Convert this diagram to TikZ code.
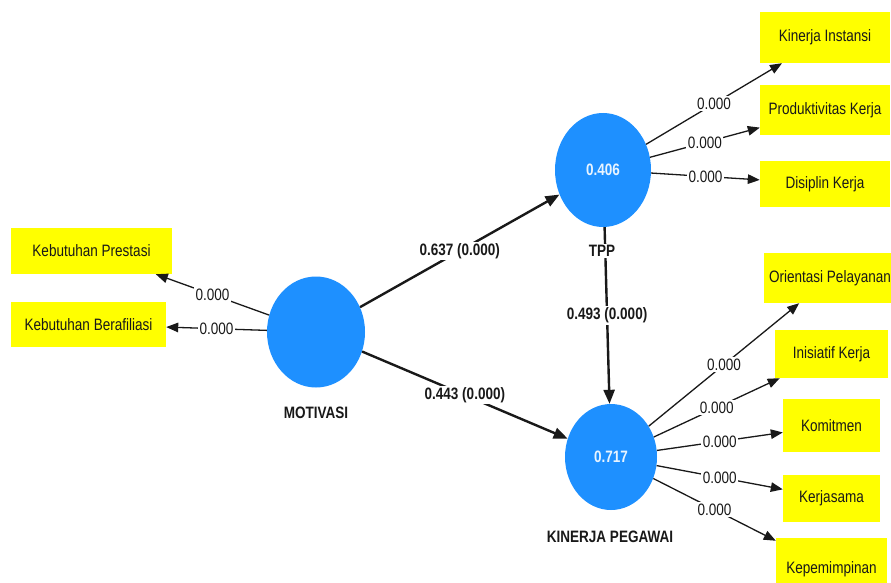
\documentclass[tikz,border=0pt]{standalone}
\usepackage{fontspec}
\setmainfont{Liberation Sans}[FakeStretch=0.82]
\usetikzlibrary{arrows.meta,shapes.geometric}
\definecolor{lvblue}{RGB}{30,144,255}
\definecolor{indyellow}{RGB}{255,255,0}
\definecolor{lvtext}{RGB}{232,244,255}
\definecolor{inktext}{RGB}{25,25,25}
\begin{document}
\begin{tikzpicture}[x=1pt,y=-1pt,
  lv/.style={ellipse, fill=lvblue, inner sep=0pt, text=lvtext,
    font=\bfseries\fontsize{16.5}{17}\selectfont},
  lvname/.style={fill=white, inner sep=1pt, text=inktext,
    font=\bfseries\fontsize{16.5}{17}\selectfont},
  ind/.style={rectangle, fill=indyellow, inner sep=0pt, text=inktext,
    font=\fontsize{16.5}{17}\selectfont},
  loadarrow/.style={line width=1.3pt, draw=inktext,
    -{Triangle[length=12pt,width=9.5pt]}},
  patharrow/.style={line width=2.4pt, draw=inktext,
    -{Triangle[length=14pt,width=11pt]}},
  loadlbl/.style={fill=white, inner sep=1.5pt, text=inktext,
    font=\fontsize{16.5}{17}\selectfont},
  pathlbl/.style={fill=white, inner sep=1.5pt, text=inktext,
    font=\bfseries\fontsize{16.5}{17}\selectfont}
]
\fill[white] (0,0) rectangle (891,583);
\useasboundingbox (0,0) rectangle (891,583);

% latent variables
\node[lv, minimum width=98pt, minimum height=111pt] (mot) at (316,332) {};
\node[lv, minimum width=96pt, minimum height=114pt] (tpp) at (603,170) {0.406};
\node[lv, minimum width=92pt, minimum height=106pt] (kp) at (611,457) {0.717};

% indicators
\node[ind, minimum width=161pt, minimum height=46pt] (kpres) at (91.5,251) {Kebutuhan Prestasi};
\node[ind, minimum width=155pt, minimum height=45pt] (kber) at (88.5,324.5) {Kebutuhan Berafiliasi};
\node[ind, minimum width=130pt, minimum height=51pt] (kins) at (825,37.5) {Kinerja Instansi};
\node[ind, minimum width=130pt, minimum height=50pt] (prod) at (825,110) {Produktivitas Kerja};
\node[ind, minimum width=130pt, minimum height=46pt] (disp) at (825,184) {Disiplin Kerja};
\node[ind, minimum width=132pt, minimum height=50pt] (orie) at (830,278) {Orientasi Pelayanan};
\node[ind, minimum width=113pt, minimum height=48pt] (inis) at (831.5,354) {Inisiatif Kerja};
\node[ind, minimum width=97pt, minimum height=53pt] (komi) at (831.5,425.5) {Komitmen};
\node[ind, minimum width=97pt, minimum height=47pt] (kerj) at (831.5,498.5) {Kerjasama};
\node[ind, minimum width=111pt, minimum height=62pt] (kepe) at (831.5,569) {Kepemimpinan};

% outer model
\draw[loadarrow] (mot) -- node[loadlbl] {0.000} (kpres);
\draw[loadarrow] (mot) -- node[loadlbl] {0.000} (kber);
\draw[loadarrow] (tpp) -- node[loadlbl] {0.000} (kins);
\draw[loadarrow] (tpp) -- node[loadlbl] {0.000} (prod);
\draw[loadarrow] (tpp) -- node[loadlbl] {0.000} (disp);
\draw[loadarrow] (kp) -- node[loadlbl] {0.000} (orie);
\draw[loadarrow] (kp) -- node[loadlbl] {0.000} (inis);
\draw[loadarrow] (kp) -- node[loadlbl] {0.000} (komi);
\draw[loadarrow] (kp) -- node[loadlbl] {0.000} (kerj);
\draw[loadarrow] (kp) -- node[loadlbl] {0.000} (kepe);

% inner model
\draw[patharrow] (mot) -- node[pathlbl] {0.637 (0.000)} (tpp);
\draw[patharrow] (mot) -- node[pathlbl] {0.443 (0.000)} (kp);
\draw[patharrow] (tpp) -- node[pathlbl] {0.493 (0.000)} (kp);

% latent names
\node[lvname] (motname) at (316,413) {MOTIVASI};
\node[lvname] (tppname) at (602,251) {TPP};
\node[lvname] (kpname) at (610,537) {KINERJA PEGAWAI};
\end{tikzpicture}
\end{document}
